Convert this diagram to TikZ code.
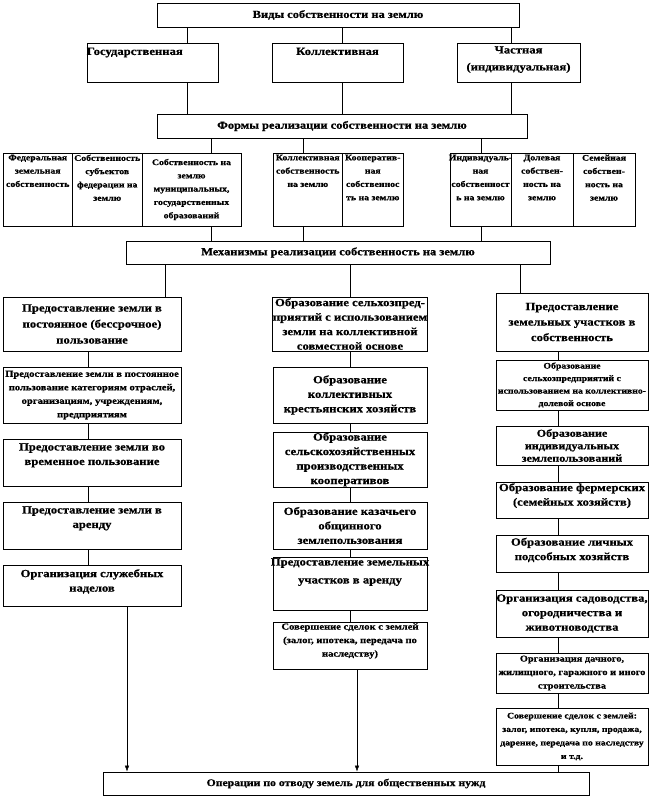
\documentclass[tikz,border=0pt]{standalone}
\usepackage{fontspec}
\setmainfont{Liberation Serif}[FakeStretch=1.15, BoldFeatures={FakeBold=0.8}]
\usetikzlibrary{arrows.meta}
\begin{document}
\begin{tikzpicture}[x=1pt, y=-1pt,
		font=\bfseries\fontsize{11}{14.5}\selectfont,
		box/.style={draw, line width=0.9pt, inner sep=0pt, align=center},
		top/.style={align=center, anchor=north, inner sep=4pt},
		head/.style={font=\bfseries\fontsize{10.8}{13}\selectfont},
		big/.style={font=\bfseries\fontsize{11}{17}\selectfont},
		small/.style={font=\bfseries\fontsize{9.2}{13.5}\selectfont},
		tiny/.style={font=\bfseries\fontsize{8.5}{12.5}\selectfont},
		cell/.style={font=\bfseries\fontsize{8.5}{13.3}\selectfont}]
	\useasboundingbox (0,0) rectangle (654,798);
	% виды собственности
	\node[box, head, minimum width=362, minimum height=24] (Vid) at (338,15) {Виды собственности на землю};
	\node[box, minimum width=131, minimum height=39, label={[top, big, anchor=north west, inner sep=5pt, xshift=-5pt]north west:{Государственная}}] (Gos) at (152.5,62.5) {};
	\node[box, minimum width=131, minimum height=39, label={[top, big, inner sep=5pt]north:{Коллективная}}] (Koll) at (337.5,62.5) {};
	\node[box, minimum width=123, minimum height=39, label={[top, big, inner sep=3.5pt]north:{Частная\\(индивидуальная)}}] (Chas) at (518.5,62.5) {};
	% формы реализации
	\node[box, head, minimum width=370, minimum height=24] (Form) at (342,126) {Формы реализации собственности на землю};
	\node[box, minimum width=69.5, minimum height=73, label={[top, cell, inner sep=2pt]north:{Федеральная\\земельная\\собственность}}] (F1) at (37.75,189.5) {};
	\node[box, minimum width=69.5, minimum height=73, label={[top, cell, inner sep=2pt]north:{Собственность\\субъектов\\федерации на\\землю}}] (F2) at (107.25,189.5) {};
	\node[box, cell, minimum width=99, minimum height=73] (F3) at (191.5,189.5) {Собственность на\\землю\\муниципальных,\\государственных\\образований};
	\node[box, minimum width=69.5, minimum height=73, label={[top, cell, inner sep=2pt]north:{Коллективная\\собственность\\на землю}}] (F4) at (307.75,189.5) {};
	\node[box, minimum width=60.5, minimum height=73, label={[top, cell, inner sep=2pt]north:{Кооператив-\\ная\\собственнос\\ть на землю}}] (F5) at (372.75,189.5) {};
	\node[box, minimum width=61, minimum height=73, label={[top, cell, inner sep=2pt]north:{Индивидуаль-\\ная\\собственност\\ь на землю}}] (F6) at (480.5,189.5) {};
	\node[box, minimum width=62, minimum height=73, label={[top, cell, inner sep=2pt]north:{Долевая\\собствен-\\ность на\\землю}}] (F7) at (542,189.5) {};
	\node[box, minimum width=62, minimum height=73, label={[top, cell, inner sep=2pt]north:{Семейная\\собствен-\\ность на\\землю}}] (F8) at (604,189.5) {};
	% механизмы реализации
	\node[box, head, minimum width=424, minimum height=23] (Mech) at (338,252.5) {Механизмы реализации собственность на землю};
	% левая колонка
	\node[box, font=\bfseries\fontsize{11}{16}\selectfont, minimum width=178, minimum height=54] (L1) at (92,324) {Предоставление земли в\\постоянное (бессрочное)\\пользование};
	\node[box, small, minimum width=178, minimum height=56] (L2) at (92,395) {Предоставление земли в постоянное\\пользование категориям отраслей,\\организациям, учреждениям,\\предприятиям};
	\node[box, minimum width=178, minimum height=47, label={[top, inner sep=4.5pt]north:{Предоставление земли во\\временное пользование}}] (L3) at (92,462.5) {};
	\node[box, minimum width=178, minimum height=47, label={[top, inner sep=4.5pt]north:{Предоставление земли в\\аренду}}] (L4) at (92,525.5) {};
	\node[box, minimum width=178, minimum height=41, label={[top, inner sep=4.5pt]north:{Организация служебных\\наделов}}] (L5) at (92,585.5) {};
	% средняя колонка
	\node[box, minimum width=154, minimum height=54] (M1) at (350,324) {Образование сельхозпред-\\приятий с использованием\\земли на коллективной\\совместной основе};
	\node[box, minimum width=154, minimum height=56] (M2) at (350,395) {Образование\\коллективных\\крестьянских хозяйств};
	\node[box, minimum width=154, minimum height=55] (M3) at (350,459.5) {Образование\\сельскохозяйственных\\производственных\\кооперативов};
	\node[box, minimum width=154, minimum height=47] (M4) at (350,525.5) {Образование казачьего\\общинного\\землепользования};
	\node[box, minimum width=154, minimum height=53, label={[top, inner sep=1.5pt, font=\bfseries\fontsize{11}{18}\selectfont]north:{Предоставление земельных\\участков в аренду}}] (M5) at (350,583.5) {};
	\node[box, minimum width=154, minimum height=47, label={[top, small, inner sep=1.5pt]north:{Совершение сделок с землей\\(залог, ипотека, передача по\\наследству)}}] (M6) at (350,645.5) {};
	% правая колонка
	\node[box, font=\bfseries\fontsize{11}{15.5}\selectfont, minimum width=152, minimum height=58] (R1) at (572,322) {Предоставление\\земельных участков в\\собственность};
	\node[box, tiny, minimum width=152, minimum height=50] (R2) at (572,385) {Образование\\сельхозпредприятий с\\использованием на коллективно-\\долевой основе};
	\node[box, font=\bfseries\fontsize{10.5}{12.5}\selectfont, minimum width=152, minimum height=39] (R3) at (572,445.5) {Образование\\индивидуальных\\землепользований};
	\node[box, minimum width=152, minimum height=36, label={[top, inner sep=1.5pt]north:{Образование фермерских\\(семейных хозяйств)}}] (R4) at (572,500) {};
	\node[box, minimum width=152, minimum height=37, label={[top, inner sep=3pt]north:{Образование личных\\подсобных хозяйств}}] (R5) at (572,553.5) {};
	\node[box, minimum width=152, minimum height=47] (R6) at (572,613.5) {Организация садоводства,\\огородничества и\\животноводства};
	\node[box, font=\bfseries\fontsize{9}{13.5}\selectfont, minimum width=152, minimum height=40] (R7) at (572,673) {Организация дачного,\\жилищного, гаражного и иного\\строительства};
	\node[box, tiny, font=\bfseries\fontsize{8.5}{13.5}\selectfont, minimum width=152, minimum height=57] (R8) at (572,736.5) {Совершение сделок с землей:\\залог, ипотека, купля, продажа,\\дарение, передача по наследству\\и т.д.};
	% операции
	\node[box, font=\bfseries\fontsize{10.2}{13}\selectfont, minimum width=486, minimum height=23] (Op) at (346,783.5) {Операции по отводу земель для общественных нужд};
	% связи
	\foreach \s in {-151,4,173}{
		\draw ([xshift=\s]Vid.south) -- ([xshift=\s]Vid.south |- Gos.north);
		\draw ([xshift=\s]Vid.south |- Gos.south) -- ([xshift=\s]Vid.south |- Form.north);
	}
	\foreach \s in {-131,-39,139}{
		\draw ([xshift=\s]Form.south) -- ([xshift=\s]Form.south |- F1.north);
		\draw ([xshift=\s]Form.south |- F1.south) -- ([xshift=\s]Form.south |- Mech.north);
	}
	\foreach \s/\n in {-173/L1,12/M1,182/R1}
		\draw ([xshift=\s]Mech.south) -- ([xshift=\s]Mech.south |- \n.north);
	\foreach \a/\b in {L1/L2,L2/L3,L3/L4,L4/L5}
		\draw ([xshift=-4]\a.south) -- ([xshift=-4]\b.north);
	\foreach \a/\b in {M1/M2,M2/M3,M3/M4,M4/M5,M5/M6}
		\draw (\a.south) -- (\b.north);
	\foreach \a/\b in {R1/R2,R2/R3,R3/R4,R4/R5,R5/R6,R6/R7,R7/R8}
		\draw ([xshift=-14]\a.south) -- ([xshift=-14]\b.north);
	\draw[->,>={Latex[length=6pt,width=4.5pt]}] ([xshift=35]L5.south) -- ([xshift=35]L5.south |- Op.north);
	\draw[->,>={Latex[length=6pt,width=4.5pt]}] ([xshift=7]M6.south) -- ([xshift=7]M6.south |- Op.north);
	\draw ([xshift=-14]R8.south) -- ([xshift=-14]R8.south |- Op.north);
\end{tikzpicture}
\end{document}
